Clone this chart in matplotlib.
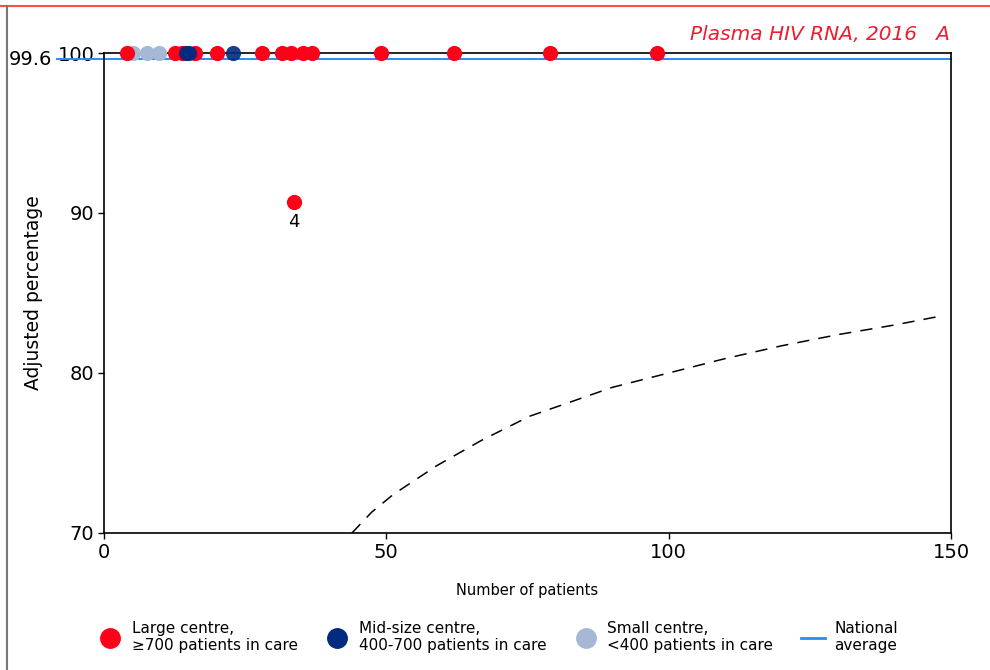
import matplotlib.pyplot as plt
from matplotlib.lines import Line2D
from matplotlib.transforms import blended_transform_factory

# Centres by size: number of patients and adjusted percentage
large_n = [4, 12.6, 13.8, 16.2, 20, 28, 31.5, 33.1, 35.3, 36.8, 49, 62, 79, 98, 33.6]
large_pct = [100, 100, 100, 100, 100, 100, 100, 100, 100, 100, 100, 100, 100, 100, 90.7]
large_id = ['', '', '', '', '', '', '', '', '', '', '', '', '', '', '4']

mid_n = [14.5, 15.0, 22.8]
mid_pct = [100, 100, 100]

small_n = [5.1, 7.7, 9.7]
small_pct = [100, 100, 100]

national_avg = 99.6

# Lower control limit (dashed funnel)
limit_n = [43.9, 47.4, 51.2, 58.9, 66.9, 75.4, 81.9, 90, 100, 110, 120, 130, 140, 148.8]
limit_pct = [70.0, 71.3, 72.4, 74.2, 75.8, 77.3, 78.1, 79.1, 80.0, 80.9, 81.7, 82.4, 83.0, 83.6]

RED = '#ff0018'
NAVY = '#002b7f'
LIGHT = '#a6b9d4'
BLUE = '#2a8cf0'

fig = plt.figure(figsize=(9.9, 6.7), dpi=100)
ax = fig.add_axes([104 / 990, 1 - 533 / 670, 847 / 990, 480 / 670])

ax.plot(limit_n, limit_pct, color='black', lw=1.1, ls=(0, (8, 6)))

# national average line runs a bit past the left axis
ax.axhline(national_avg, xmin=-0.0555, xmax=1, color=BLUE, lw=1.4, clip_on=False, zorder=2)
tr = blended_transform_factory(fig.transFigure, ax.transData)
ax.text(52 / 990, national_avg, '99.6', transform=tr, ha='right', va='center', fontsize=14)

ax.scatter(small_n, small_pct, s=120, color=LIGHT, clip_on=False, zorder=3, linewidths=0)
ax.scatter(large_n, large_pct, s=120, color=RED, clip_on=False, zorder=4, linewidths=0)
ax.scatter(mid_n, mid_pct, s=120, color=NAVY, clip_on=False, zorder=5, linewidths=0, alpha=0.9)

for n, p, lab in zip(large_n, large_pct, large_id):
    if lab:
        ax.annotate(lab, (n, p), xytext=(0, -8), textcoords='offset points',
                    ha='center', va='top', fontsize=13)

ax.set_xlim(0, 150)
ax.set_ylim(70, 100)
ax.set_xticks([0, 50, 100, 150])
ax.set_yticks([70, 80, 90, 100])
ax.tick_params(labelsize=14, length=4, width=1, direction='out', pad=3)
for sp in ax.spines.values():
    sp.set_linewidth(1.2)
ax.set_xlabel('Number of patients', fontsize=10.5)
ax.xaxis.set_label_coords(0.5, -0.105)
ax.set_ylabel('Adjusted percentage', fontsize=13.5)
ax.yaxis.set_label_coords(-0.072, 0.5)

fig.text(950 / 990, 1 - 34 / 670, 'Plasma HIV RNA, 2016   A', color='#ee1c2e',
         fontsize=14.5, style='italic', ha='right', va='center')

# outer frame: red rule on top, grey rule on the left
fig.add_artist(Line2D([0, 1], [1 - 6 / 670, 1 - 6 / 670], transform=fig.transFigure,
                      color='#ff4d4d', lw=1.5))
fig.add_artist(Line2D([7 / 990, 7 / 990], [0, 1 - 6 / 670], transform=fig.transFigure,
                      color='#777777', lw=1.5))

handles = [
    Line2D([], [], ls='', marker='o', ms=14, color=RED, label='Large centre,\n≥700 patients in care'),
    Line2D([], [], ls='', marker='o', ms=14, color=NAVY, label='Mid-size centre,\n400-700 patients in care'),
    Line2D([], [], ls='', marker='o', ms=14, color=LIGHT, label='Small centre,\n<400 patients in care'),
    Line2D([], [], color=BLUE, lw=2, label='National\naverage'),
]
fig.legend(handles=handles, loc='center', bbox_to_anchor=(498 / 990, 1 - 637 / 670), ncol=4,
           frameon=False, fontsize=11, handlelength=1.6, handletextpad=0.6,
           columnspacing=1.8)

fig.savefig('out.png', dpi=100)
